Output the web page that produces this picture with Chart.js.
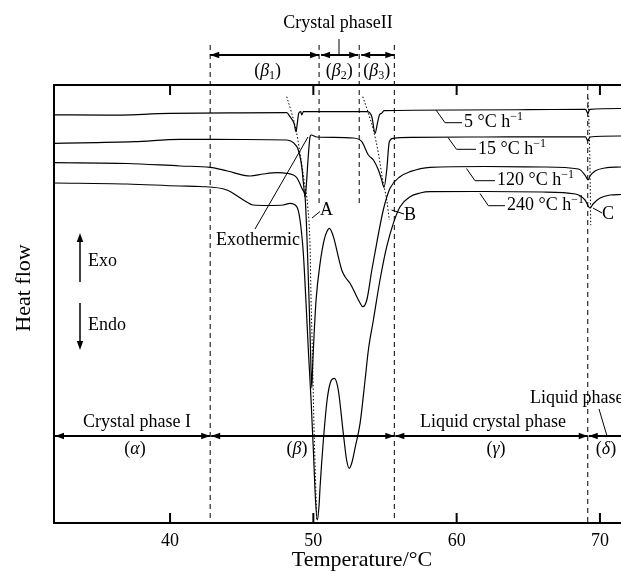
<!DOCTYPE html>
<html>
<head>
<meta charset="utf-8">
<script src="https://cdn.jsdelivr.net/npm/chart.js@4.4.0/dist/chart.umd.min.js"></script>
<style>
html,body{margin:0;padding:0;background:#fff}
</style>
</head>
<body>
<canvas id="dsc" width="621" height="571"></canvas>
<script>
// temperatures (°C) and heat flow (arbitrary units, exo up)
let t5=[31.9,35.5,40,45,48.14,48.37,48.65,48.79,48.88,48.98,49.12,49.19,49.3,53.73,54.08,54.31,54.47,54.61,54.77,54.93,60,65,69.0,69.15,69.3,71.5]
let f5=[93.2,93.1,93.5,93.65,93.68,92.76,91.26,89.34,91.26,93.54,93.9,93.15,93.9,93.9,92.76,88.97,91.26,93.15,93.54,94.13,94.29,94.36,94.45,93.6,94.45,94.63]

let t15=[31.9,37.5,40.7,45,48.14,48.6,48.95,49.19,49.32,49.42,49.51,49.61,49.77,49.84,50.24,52.79,53.38,53.84,54.19,54.54,54.77,54.93,55.12,55.3,55.58,56.98,62,69.0,69.15,69.3,71.5]
let f15=[86.69,87.05,87.6,87.56,87.44,86.83,85.16,81.35,77.17,74.5,77.17,82.12,88.2,88.58,88.13,87.9,87.05,84.02,82.88,80.59,78.31,76.64,80.59,87.05,87.83,88.06,88.13,88.17,87.21,88.13,88.36]

let t120=[31.9,37,40.7,42.8,44.0,45.6,46.5,47.5,48.14,48.6,48.86,49.05,49.26,49.42,49.56,49.7,49.8,49.89,49.94,50.0,50.19,50.47,50.75,50.94,51.12,51.4,51.74,51.98,52.21,52.56,53.03,53.26,53.45,53.73,54.08,54.42,54.88,55.35,56.05,56.75,58.14,62,66,68.5,68.96,69.17,69.31,69.66,70.36,71.47]
let f120=[82.26,82.08,81.51,81.21,80.37,79.22,79.68,79.98,79.84,79.45,78.77,77.56,76.03,74.5,64.61,50.91,39.5,30.82,34.93,39.5,50.91,59.29,64.61,66.51,67.28,65.37,60.8,57.76,56.23,54.73,51.67,50.23,49.38,50.91,57.76,63.86,71.46,76.42,79.06,80.21,81.21,81.39,81.28,80.82,79.45,78.31,79.22,80.37,81.05,81.28]

let t240=[31.9,37,40.7,42.1,43.96,45.12,45.81,46.84,47.91,48.37,48.84,49.07,49.3,49.49,49.65,49.84,50.0,50.15,50.28,50.4,50.47,50.7,50.96,51.2,51.47,51.74,52.09,52.32,52.51,52.7,52.91,53.26,53.61,53.84,54.19,54.65,55.12,55.58,56.05,56.75,57.45,58.14,62,66,68.3,68.96,69.31,69.52,70.01,70.71,71.47]
let f240=[77.63,77.4,76.94,76.83,76.03,73.74,72.6,72.49,72.6,72.99,72.22,69.18,61.58,50.16,39.5,28.08,16.67,5.25,0.68,4.11,8.29,18.95,28.08,32.19,33.04,30.37,20.48,14.38,12.49,13.93,17.12,22.76,32.65,39.5,46.35,55.48,63.08,68.42,72.21,74.5,75.34,75.64,75.68,75.57,75.11,73.74,71.92,72.83,74.2,74.89,75.0]

// dotted guide curves A, B, C
let tA=[48.14,48.49,48.79,49.07,49.35,49.61,49.77,49.84,49.93,50.05,50.24]
let fA=[97.33,93.54,89.73,84.41,78.31,72.21,63.08,50.91,39.5,21.23,0.68]
let tB=[53.45,53.84,54.19,54.54,54.84,55.12,55.3]
let fB=[97.33,93.54,89.73,84.41,78.31,73.74,69.18]
let tC=[69.17,69.28,69.36]
let fC=[97,86,68]

// phase boundaries (°C) and ticks
let bounds=[42.8,50.4,53.2,55.65,69.15]
let tickVals=[40,50,60,70]
let rateLabels=["5","15","120","240"]

const SERIF='"Liberation Serif", "Times New Roman", serif'

function pts(t,f){return t.map((v,i)=>({x:v,y:f[i]}))}
function curve(t,f){
return {data:pts(t,f),showLine:true,borderColor:"#000",borderWidth:1.2,pointRadius:0,
cubicInterpolationMode:"monotone",fill:false}
}
function dotted(t,f){
let d=curve(t,f)
d.borderWidth=1
d.borderDash=[1.5,2]
return d
}

function fontOf(p,size){
let s=(p.sub||p.sup)?Math.round(size*0.65):size
return (p.i?"italic ":"")+s+"px "+SERIF
}
function rich(ctx,parts,x,y,align,size){
let w=0
parts.forEach(p=>{ctx.font=fontOf(p,size);p.w=ctx.measureText(p.t).width;w+=p.w})
let cx=align==="center"?x-w/2:x
ctx.textAlign="left"
ctx.textBaseline="middle"
parts.forEach(p=>{
ctx.font=fontOf(p,size)
let dy=p.sub?size*0.28:p.sup?-size*0.32:0
ctx.fillText(p.t,cx,y+dy)
cx+=p.w
})
}
function head(ctx,x,y,dir,len,hw){
ctx.beginPath()
if(dir==="l"){ctx.moveTo(x,y);ctx.lineTo(x+len,y-hw);ctx.lineTo(x+len,y+hw)}
if(dir==="r"){ctx.moveTo(x,y);ctx.lineTo(x-len,y-hw);ctx.lineTo(x-len,y+hw)}
if(dir==="u"){ctx.moveTo(x,y);ctx.lineTo(x-hw,y+len);ctx.lineTo(x+hw,y+len)}
if(dir==="d"){ctx.moveTo(x,y);ctx.lineTo(x-hw,y-len);ctx.lineTo(x+hw,y-len)}
ctx.closePath()
ctx.fill()
}
function hArrow(ctx,x1,x2,y,leftHead,rightHead){
ctx.lineWidth=2
ctx.beginPath();ctx.moveTo(x1,y);ctx.lineTo(x2,y);ctx.stroke()
if(leftHead)head(ctx,x1,y,"l",9,3.2)
if(rightHead)head(ctx,x2,y,"r",9,3.2)
}
function line(ctx,p){
ctx.beginPath()
ctx.moveTo(p[0],p[1])
for(let i=2;i<p.length;i+=2)ctx.lineTo(p[i],p[i+1])
ctx.stroke()
}

const annot={
id:"annot",
afterDraw(chart){
let ctx=chart.ctx
let a=chart.chartArea
let X=v=>chart.scales.x.getPixelForValue(v)
ctx.save()
ctx.strokeStyle="#000"
ctx.fillStyle="#000"

// frame: left, top, bottom
ctx.lineWidth=2
line(ctx,[a.left,a.top,a.left,a.bottom])
line(ctx,[a.left-1,a.top,a.right,a.top])
line(ctx,[a.left-1,a.bottom,a.right,a.bottom])
// inward ticks
tickVals.forEach(v=>{
let x=X(v)
line(ctx,[x,a.bottom,x,a.bottom-10])
line(ctx,[x,a.top,x,a.top+10])
})

// phase boundaries
ctx.lineWidth=1
ctx.setLineDash([5,4])
let b=bounds.map(X)
line(ctx,[b[0],45,b[0],a.bottom])
line(ctx,[b[1],45,b[1],204])
line(ctx,[b[2],45,b[2],204])
line(ctx,[b[3],45,b[3],a.bottom])
line(ctx,[b[4],a.top,b[4],a.bottom])
ctx.setLineDash([])

// top arrows beta1..beta3
hArrow(ctx,b[0],b[1],55,true,true)
hArrow(ctx,b[1]+2,b[2]-1,55,true,true)
hArrow(ctx,b[2]+2,b[3],55,true,true)
ctx.lineWidth=1
line(ctx,[339,39,339,55])
rich(ctx,[{t:"Crystal phaseII"}],338,23,"center",18)
rich(ctx,[{t:"("},{t:"β",i:true},{t:"1",sub:true},{t:")"}],(b[0]+b[1])/2+3,71,"center",18)
rich(ctx,[{t:"("},{t:"β",i:true},{t:"2",sub:true},{t:")"}],(b[1]+b[2])/2,71,"center",18)
rich(ctx,[{t:"("},{t:"β",i:true},{t:"3",sub:true},{t:")"}],(b[2]+b[3])/2,71,"center",18)

// bottom phase arrows
hArrow(ctx,a.left+1,b[0],436,true,true)
hArrow(ctx,b[0]+1,b[3],436,true,true)
hArrow(ctx,b[3]+1,b[4],436,true,true)
hArrow(ctx,b[4]+1,a.right+12,436,true,true)
rich(ctx,[{t:"Crystal phase I"}],137,422,"center",18)
rich(ctx,[{t:"("},{t:"α",i:true},{t:")"}],135,449,"center",18)
rich(ctx,[{t:"("},{t:"β",i:true},{t:")"}],297,449,"center",18)
rich(ctx,[{t:"Liquid crystal phase"}],493,422,"center",18)
rich(ctx,[{t:"("},{t:"γ",i:true},{t:")"}],496,449,"center",18)
rich(ctx,[{t:"("},{t:"δ",i:true},{t:")"}],606,449,"center",18)
rich(ctx,[{t:"Liquid phase"}],530,398,"left",18)
ctx.lineWidth=1
line(ctx,[599,409,607,436])

// A, B, C and exothermic
rich(ctx,[{t:"Exothermic"}],216,240,"left",18)
line(ctx,[255,229,308,137])
line(ctx,[312,218,320,211.5])
rich(ctx,[{t:"A"}],320,210,"left",18)
line(ctx,[391.5,210,404,214])
rich(ctx,[{t:"B"}],404,215,"left",18)
line(ctx,[593,208,602,213])
rich(ctx,[{t:"C"}],602,214,"left",18)

// heating rate labels
let lead=[[436,110,445,122.7,462],[448,137.5,456.5,149.3,476],[466.5,168.5,475,180.7,495],[480,193.5,488.3,205.7,505]]
rateLabels.forEach((r,i)=>{
let L=lead[i]
line(ctx,[L[0],L[1],L[2],L[3],L[4],L[3]])
rich(ctx,[{t:r+" °C h"},{t:"−1",sup:true}],L[4]+2,L[3],"left",18)
})

// exo / endo
ctx.lineWidth=1.5
line(ctx,[80,282,80,240])
head(ctx,80,233,"u",9,3.2)
line(ctx,[80,303,80,343])
head(ctx,80,350,"d",9,3.2)
rich(ctx,[{t:"Exo"}],88,261,"left",18)
rich(ctx,[{t:"Endo"}],88,325,"left",18)

// axis titles
ctx.save()
ctx.translate(24,288)
ctx.rotate(-Math.PI/2)
rich(ctx,[{t:"Heat flow"}],0,0,"center",22)
ctx.restore()
rich(ctx,[{t:"Temperature/°C"}],362,560,"center",22)
ctx.restore()
}
}

let chart=new Chart(document.getElementById("dsc"),{
type:"scatter",
data:{datasets:[
curve(t5,f5),
curve(t15,f15),
curve(t120,f120),
curve(t240,f240),
dotted(tA,fA),
dotted(tB,fB),
dotted(tC,fC)
]},
options:{
responsive:false,
animation:false,
layout:{padding:{left:54,top:85,right:0,bottom:0}},
plugins:{legend:{display:false},tooltip:{enabled:false}},
elements:{point:{radius:0}},
scales:{
x:{
type:"linear",min:31.9,max:71.47,
afterFit:s=>{s.height=48},
afterBuildTicks:s=>{s.ticks=tickVals.map(v=>({value:v}))},
grid:{display:false,drawTicks:false},
border:{display:false},
ticks:{font:{family:SERIF,size:18},color:"#000",padding:7,maxRotation:0}
},
y:{display:false,min:0,max:100}
}
},
plugins:[annot]
})
</script>
</body>
</html>
